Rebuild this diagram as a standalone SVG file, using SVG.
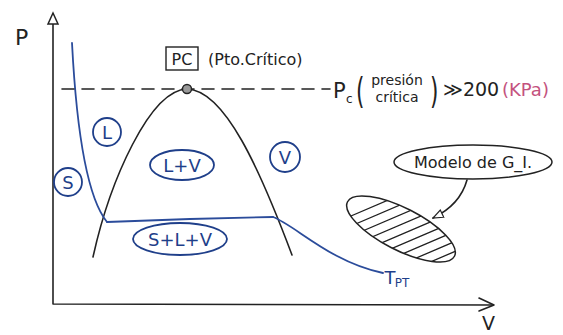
<svg xmlns="http://www.w3.org/2000/svg" width="563" height="335" viewBox="0 0 563 335">
<style>
.ink{fill:none;stroke:#222;stroke-width:1.6;stroke-linecap:round;stroke-linejoin:round}
.blue{fill:none;stroke:#2b4c9b;stroke-width:1.8;stroke-linecap:round;stroke-linejoin:round}
.bubble{fill:none;stroke:#1f3f8a;stroke-width:1.8}
.bt{font-family:"DejaVu Sans","Noto Sans",sans-serif;fill:#1f3f8a;text-anchor:middle}
.kt{font-family:"DejaVu Sans","Noto Sans",sans-serif;fill:#222}
.hatch{stroke:#222;stroke-width:1.3}
</style>
<defs>
<marker id="hollow" viewBox="0 0 12 10" refX="11" refY="5" markerWidth="12" markerHeight="10" markerUnits="userSpaceOnUse" orient="auto">
<path d="M1,1 L11,5 L1,9 Z" fill="#fff" stroke="#222" stroke-width="1.2"/>
</marker>
<clipPath id="blobclip"><ellipse cx="401" cy="229" rx="60" ry="21" transform="rotate(27 401 229)"/></clipPath>
</defs>
<rect width="563" height="335" fill="#fff"/>
<g id="axes">
<path class="ink" d="M53,24 L53,304 L493,305"/>
<path d="M53,13 L48,24 L58,24 Z" fill="#fff" stroke="#222" stroke-width="1.5"/>
<path class="ink" d="M479,298 L494,305 L479,311"/>
<text class="kt" x="15" y="45" font-size="22">P</text>
<text class="kt" x="482" y="330" font-size="19">V</text>
</g>
<g id="connectors">
<path class="ink" d="M93,257 C110,180 150,90 187,89 C225,90 260,170 292,255"/>
<path class="blue" d="M72,43 C76,120 85,195 107,222"/>
<path class="blue" d="M107,222 L190,219 L273,217"/>
<path class="blue" d="M273,217 C295,225 330,262 383,273"/>
<path class="ink" d="M62,89 L330,89" stroke-dasharray="12 8" stroke-width="1.4"/>
<path class="ink" d="M467,180 Q460,205 433,218" marker-end="url(#hollow)"/>
</g>
<g id="critical-point">
<circle cx="187" cy="89" r="4.5" fill="#999" stroke="#222" stroke-width="1.4"/>
<rect x="166" y="47" width="32" height="23" fill="none" stroke="#222" stroke-width="1.4"/>
<text class="kt" x="182" y="65" font-size="16" text-anchor="middle">PC</text>
<text class="kt" x="208" y="65" font-size="16">(Pto.Crítico)</text>
</g>
<g id="pc-label">
<text class="kt" x="333" y="98" font-size="21">P</text>
<text class="kt" x="346" y="103" font-size="12">c</text>
<text class="kt" x="356" y="103" font-size="36" transform="translate(356 0) scale(0.6 1) translate(-356 0)">(</text>
<text class="kt" x="397" y="85" font-size="14" text-anchor="middle">presión</text>
<text class="kt" x="397" y="102" font-size="14" text-anchor="middle">crítica</text>
<text class="kt" x="430" y="103" font-size="36" transform="translate(430 0) scale(0.6 1) translate(-430 0)">)</text>
<text class="kt" x="443" y="96" font-size="19">≫200</text>
<text x="502" y="96" font-size="18" font-family="DejaVu Sans, sans-serif" fill="#c4527e">(KPa)</text>
</g>
<g id="region-L">
<circle class="bubble" cx="107" cy="132" r="14"/>
<text class="bt" x="107" y="139" font-size="18">L</text>
</g>
<g id="region-S">
<circle class="bubble" cx="68" cy="182" r="14"/>
<text class="bt" x="68" y="189" font-size="18">S</text>
</g>
<g id="region-LV">
<ellipse class="bubble" cx="182" cy="165" rx="32" ry="15"/>
<text class="bt" x="182" y="172" font-size="18">L+V</text>
</g>
<g id="region-V">
<circle class="bubble" cx="285" cy="157" r="15"/>
<text class="bt" x="285" y="164" font-size="18">V</text>
</g>
<g id="region-SLV">
<ellipse class="bubble" cx="180" cy="239" rx="47" ry="16"/>
<text class="bt" x="180" y="246" font-size="18">S+L+V</text>
</g>
<g id="label-TPT">
<text class="bt" x="390" y="284" font-size="18" text-anchor="start">T</text>
<text class="bt" x="402" y="287" font-size="12" text-anchor="start">PT</text>
</g>
<g id="ideal-gas-label">
<ellipse cx="473" cy="162" rx="79" ry="17" fill="none" stroke="#222" stroke-width="1.5"/>
<text class="kt" x="473" y="168" font-size="16" text-anchor="middle">Modelo de G_I.</text>
</g>
<g id="ideal-gas-region">
<g clip-path="url(#blobclip)">
<path class="hatch" d="M330,225 L470,165 M330,235 L470,175 M330,245 L470,185 M330,255 L470,195 M330,265 L470,205 M330,275 L470,215 M330,285 L470,225 M330,295 L470,235 M330,305 L470,245 M330,315 L470,255 M330,325 L470,265 M330,335 L470,275"/>
</g>
<ellipse cx="401" cy="229" rx="60" ry="21" transform="rotate(27 401 229)" fill="none" stroke="#222" stroke-width="1.5"/>
</g>
</svg>
